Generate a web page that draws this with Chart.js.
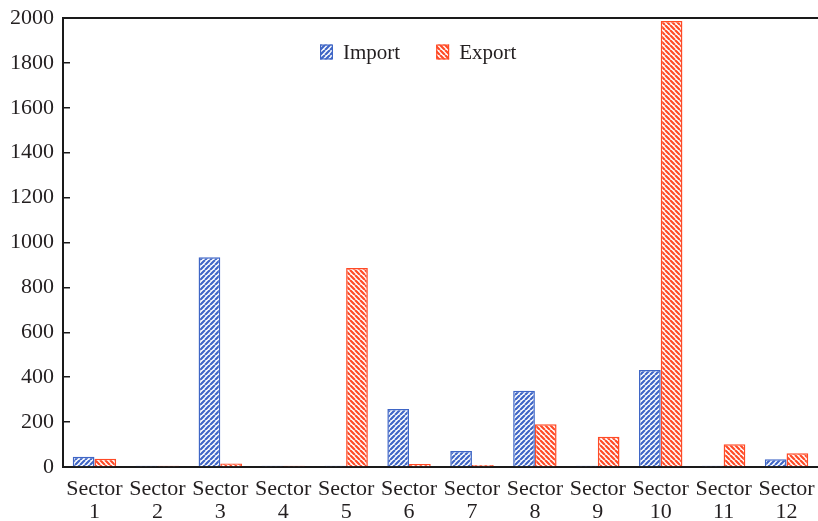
<!DOCTYPE html>
<html>
<head>
<meta charset="utf-8">
<script src="https://cdn.jsdelivr.net/npm/chart.js@4"></script>
<style>
  html, body { margin: 0; padding: 0; background: #fff; }
  #wrap { width: 818px; height: 521px; }
</style>
</head>
<body>
<div id="wrap"><canvas id="myChart"></canvas></div>
<script>
const categories = [
    ['Sector', '1'], ['Sector', '2'], ['Sector', '3'], ['Sector', '4'],
    ['Sector', '5'], ['Sector', '6'], ['Sector', '7'], ['Sector', '8'],
    ['Sector', '9'], ['Sector', '10'], ['Sector', '11'], ['Sector', '12']
];
const importValues = [46, 6, 934, 6, 6, 258, 71, 340, 6, 432, 6, 34];
const exportValues = [37, 6, 16, 6, 886, 13, 9, 190, 135, 1987, 101, 61];
const yMin = 0;
const yMax = 2000;
const yStep = 200;

const blue = '#3f66c6';
const red = '#ff4a26';
const textColor = '#231f20';
const fontName = "'Liberation Serif', 'Times New Roman', serif";

// hatch fill like the original: '/' for import, '\' for export
function stripes(color, dir) {
    const s = 5;
    const c = document.createElement('canvas');
    c.width = s;
    c.height = s;
    const g = c.getContext('2d');
    g.fillStyle = '#ffffff';
    g.fillRect(0, 0, s, s);
    g.strokeStyle = color;
    g.lineWidth = 2.2;
    g.beginPath();
    for (let k = -1; k <= 1; k++) {
        if (dir > 0) {
            g.moveTo(k * s, s);
            g.lineTo(k * s + s, 0);
        } else {
            g.moveTo(k * s, 0);
            g.lineTo(k * s + s, s);
        }
    }
    g.stroke();
    return g.createPattern(c, 'repeat');
}

// one-row legend inside the plot, near the top middle
const innerLegend = {
    id: 'innerLegend',
    afterDraw(chart) {
        const c = chart.ctx;
        const area = chart.chartArea;
        const boxW = 13, boxH = 15, gap = 10, spacing = 36;
        let x = area.left + 257;
        const yMid = area.top + 34;
        c.save();
        c.font = '21px ' + fontName;
        c.textBaseline = 'middle';
        c.textAlign = 'left';
        chart.data.datasets.forEach(function (ds) {
            c.fillStyle = ds.backgroundColor;
            c.fillRect(x, yMid - boxH / 2, boxW, boxH);
            c.strokeStyle = ds.borderColor;
            c.lineWidth = 1.2;
            c.strokeRect(x + 0.6, yMid - boxH / 2 + 0.6, boxW - 1.2, boxH - 1.2);
            c.fillStyle = textColor;
            c.fillText(ds.label, x + boxW + gap, yMid + 1);
            x += boxW + gap + c.measureText(ds.label).width + spacing;
        });
        c.restore();
    }
};

Chart.defaults.font.family = fontName;
Chart.defaults.color = textColor;

const ctx = document.getElementById('myChart');
const chart = new Chart(ctx, {
    type: 'bar',
    data: {
        labels: categories,
        datasets: [{
            label: 'Import',
            data: importValues,
            backgroundColor: stripes(blue, 1),
            borderColor: blue,
            borderWidth: 1.5
        }, {
            label: 'Export',
            data: exportValues,
            backgroundColor: stripes(red, -1),
            borderColor: red,
            borderWidth: 1.5
        }]
    },
    options: {
        responsive: true,
        maintainAspectRatio: false,
        animation: false,
        layout: { padding: { top: 18, left: 0, right: 0, bottom: 0 } },
        datasets: {
            bar: { categoryPercentage: 0.69, barPercentage: 1.0 }
        },
        scales: {
            x: {
                grid: { display: false },
                border: { display: true, color: '#1a1a1a', width: 2 },
                ticks: {
                    font: { size: 22, lineHeight: 1.05 },
                    padding: 3,
                    maxRotation: 0,
                    autoSkip: false
                },
                afterFit(scale) { scale.height = 54; }
            },
            x2: {
                position: 'top',
                grid: { display: false },
                border: { display: true, color: '#1a1a1a', width: 2 },
                ticks: { display: false },
                afterFit(scale) { scale.height = 0; }
            },
            y: {
                min: yMin,
                max: yMax,
                grid: {
                    drawOnChartArea: false,
                    drawTicks: true,
                    tickLength: -7,
                    color: '#1a1a1a',
                    lineWidth: 1.5
                },
                border: { display: true, color: '#1a1a1a', width: 2 },
                ticks: {
                    stepSize: yStep,
                    font: { size: 22 },
                    padding: 16,
                    callback: (v) => String(v)
                },
                afterFit(scale) {
                    // tick padding is only meant to push labels sideways
                    scale.width = 63;
                    scale.paddingTop = 0;
                    scale.paddingBottom = 0;
                }
            }
        },
        plugins: {
            legend: { display: false },
            tooltip: { enabled: false }
        }
    },
    plugins: [innerLegend]
});
</script>
</body>
</html>
